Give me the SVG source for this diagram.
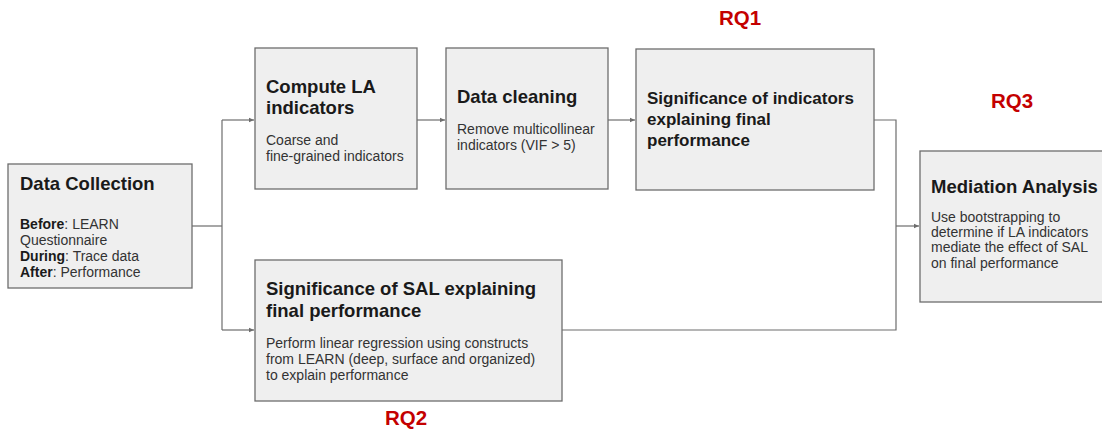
<svg xmlns="http://www.w3.org/2000/svg" width="1102" height="430" viewBox="0 0 1102 430">
<style>
.box{fill:#efefef;stroke:#6d6d6d;stroke-width:1.3}
.t{font-family:"Liberation Sans",Arial,sans-serif;font-weight:bold;font-size:18.5px;fill:#1a1a1a}
.t2{font-family:"Liberation Sans",Arial,sans-serif;font-weight:bold;font-size:17px;fill:#1a1a1a}
.b{font-family:"Liberation Sans",Arial,sans-serif;font-size:14px;fill:#333}
.b tspan.k{font-weight:bold;fill:#1a1a1a}
.rq{font-family:"Liberation Sans",Arial,sans-serif;font-weight:bold;font-size:20.5px;fill:#c40000;text-anchor:middle}
.c{fill:none;stroke:#6d6d6d;stroke-width:1.2}
</style>
<defs>
<marker id="ah" markerWidth="6" markerHeight="6" refX="5" refY="3" orient="auto" markerUnits="userSpaceOnUse">
<path d="M0,0.8 L5,3 L0,5.2 Z" fill="#6d6d6d"/>
</marker>
</defs>
<rect width="1102" height="430" fill="#fff"/>
<g id="connectors">
<path class="c" d="M192,226 H222"/>
<path class="c" d="M222,120 V330"/>
<path class="c" d="M222,120 H254" marker-end="url(#ah)"/>
<path class="c" d="M222,330 H254" marker-end="url(#ah)"/>
<path class="c" d="M417,120 H445" marker-end="url(#ah)"/>
<path class="c" d="M608,120 H635" marker-end="url(#ah)"/>
<path class="c" d="M874,120 H896 V330 H562"/>
<path class="c" d="M896,226 H919" marker-end="url(#ah)"/>
</g>
<g id="data-collection">
<rect class="box" x="8" y="164" width="184" height="124"/>
<text class="t" x="20" y="190">Data Collection</text>
<text class="b" x="20" y="229"><tspan class="k">Before</tspan>: LEARN</text>
<text class="b" x="20" y="245">Questionnaire</text>
<text class="b" x="20" y="261"><tspan class="k">During</tspan>: Trace data</text>
<text class="b" x="20" y="277"><tspan class="k">After</tspan>: Performance</text>
</g>
<g id="compute-la">
<rect class="box" x="255" y="48" width="162" height="141"/>
<text class="t" x="266" y="93">Compute LA</text>
<text class="t" x="266" y="114">indicators</text>
<text class="b" x="266" y="145">Coarse and</text>
<text class="b" x="266" y="161">fine-grained indicators</text>
</g>
<g id="data-cleaning">
<rect class="box" x="446" y="48" width="162" height="141"/>
<text class="t" x="457" y="103">Data cleaning</text>
<text class="b" x="457" y="134">Remove multicollinear</text>
<text class="b" x="457" y="150">indicators (VIF &gt; 5)</text>
</g>
<g id="sig-indicators">
<rect class="box" x="636" y="49" width="238" height="141"/>
<text class="t2" x="647" y="104">Significance of indicators</text>
<text class="t2" x="647" y="125">explaining final</text>
<text class="t2" x="647" y="146">performance</text>
<text class="rq" x="740" y="25">RQ1</text>
</g>
<g id="sig-sal">
<rect class="box" x="255" y="260" width="307" height="141"/>
<text class="t" x="266" y="295">Significance of SAL explaining</text>
<text class="t" x="266" y="317">final performance</text>
<text class="b" x="266" y="348">Perform linear regression using constructs</text>
<text class="b" x="266" y="364">from LEARN (deep, surface and organized)</text>
<text class="b" x="266" y="380">to explain performance</text>
<text class="rq" x="406" y="425">RQ2</text>
</g>
<g id="mediation">
<rect class="box" x="920" y="151" width="190" height="151"/>
<text class="t" x="931" y="193">Mediation Analysis</text>
<text class="b" x="931" y="222">Use bootstrapping to</text>
<text class="b" x="931" y="237">determine if LA indicators</text>
<text class="b" x="931" y="252">mediate the effect of SAL</text>
<text class="b" x="931" y="268">on final performance</text>
<text class="rq" x="1012" y="108">RQ3</text>
</g>
</svg>
